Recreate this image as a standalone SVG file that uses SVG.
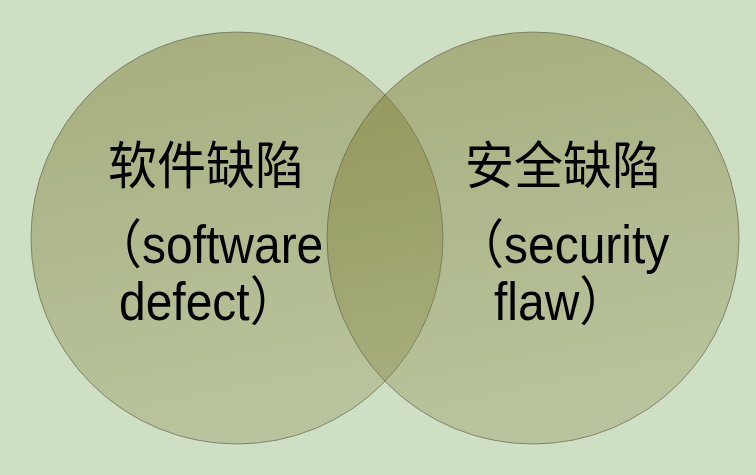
<svg xmlns="http://www.w3.org/2000/svg" width="756" height="475" viewBox="0 0 756 475">
<defs>
<linearGradient id="g" x1="0" y1="0" x2="0.2" y2="1">
<stop offset="0" stop-color="#7d7b34" stop-opacity="0.5"/>
<stop offset="1" stop-color="#7d7b34" stop-opacity="0.27"/>
</linearGradient>
</defs>
<style>
.c{fill:url(#g);stroke:#5e5e4c;stroke-opacity:0.65;stroke-width:1}
.t{font-family:"Liberation Sans","Noto Sans CJK SC",sans-serif;font-size:48px;fill:#000}
.k{font-family:"Noto Sans CJK SC",sans-serif;font-size:49px;fill:#000}
</style>
<rect width="756" height="475" fill="#cfdfc4"/>
<g id="software-defect">
<circle class="c" cx="237" cy="238" r="206"/>
<text class="k" x="108" y="184" transform="matrix(1 0 0 1.04 0 -7.4)">软件缺陷</text>
<g transform="matrix(1 0 0 1.1 0 0)">
<text class="t" x="94" y="239.1">（software</text>
<text class="t" x="119" y="290.9">defect）</text>
</g>
</g>
<g id="security-flaw">
<circle class="c" cx="533" cy="238" r="206"/>
<text class="k" x="465" y="184" transform="matrix(1 0 0 1.04 0 -7.4)">安全缺陷</text>
<g transform="matrix(1 0 0 1.1 0 0)">
<text class="t" x="456" y="239.1">（security</text>
<text class="t" x="494" y="290.9">flaw）</text>
</g>
</g>
</svg>
